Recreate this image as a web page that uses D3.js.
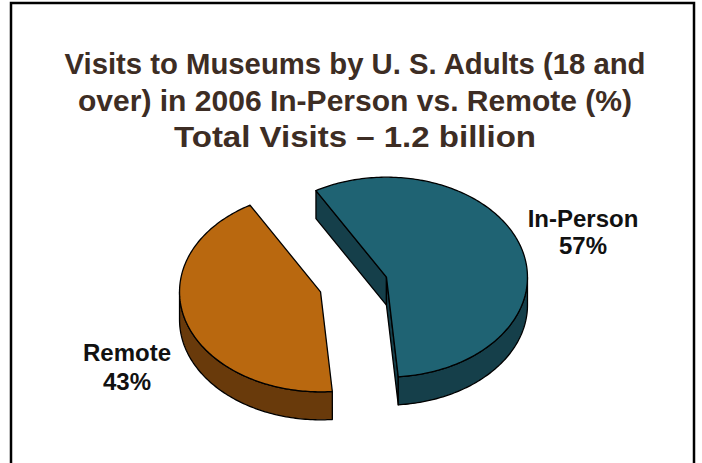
<!DOCTYPE html>
<html>
<head>
<meta charset="utf-8">
<script src="https://cdn.jsdelivr.net/npm/d3@7"></script>
<style>
  html, body { margin: 0; padding: 0; background: #fff; }
  svg { display: block; }
</style>
</head>
<body>
<svg id="chart" width="702" height="463"></svg>
<script>
// Data
const categories = ["In-Person", "Remote"];
const shares = [57, 43];
const valueLabels = ["57%", "43%"];
const titleLines = [
  "Visits to Museums by U. S. Adults (18 and",
  "over) in 2006 In-Person vs. Remote (%)",
  "Total Visits \u2013 1.2 billion"
];

// Styling / layout
const topColors = ["#1F6373", "#B9680F"];
const sideColors = ["#153F4A", "#693A0B"];
const W = 702, H = 463;
const cx = 353.5, cy = 284.5;   // pie centre (before slices are pulled apart)
const rx = 141, ry = 100;       // ellipse radii of the tilted pie
const depth = 28;               // thickness of the pie
const explode = 0.245;          // how far each slice is pulled out
const startDeg = -30;

const svg = d3.select("#chart");

// Frame
svg.append("rect")
  .attr("x", 11).attr("y", 3)
  .attr("width", 683).attr("height", 520)
  .attr("fill", "none").attr("stroke", "#000").attr("stroke-width", 2.5);

// Title (condensed bold lines)
const title = svg.append("g");
const titleBase = [74, 111, 147];
const titleWidths = [581, 554, 362];
titleLines.forEach((t, i) => {
  title.append("text")
    .attr("x", W / 2 + 4).attr("y", titleBase[i])
    .attr("text-anchor", "middle")
    .attr("font-family", "'Liberation Sans', Arial, sans-serif")
    .attr("font-weight", "bold")
    .attr("font-size", 30)
    .attr("fill", "#3D2D24")
    .attr("textLength", titleWidths[i])
    .attr("lengthAdjust", "spacingAndGlyphs")
    .text(t);
});

// Pie layout (angles clockwise from 12 o'clock)
const pie = d3.pie().sort(null).value(d => d)
  .startAngle(startDeg * Math.PI / 180)
  .endAngle((startDeg + 360) * Math.PI / 180);
const arcs = pie(shares);

const pt = (ox, oy, a, dy = 0) => [ox + rx * Math.sin(a), oy - ry * Math.cos(a) + dy];
function arcPoints(ox, oy, a0, a1, dy = 0) {
  const n = Math.max(2, Math.ceil(Math.abs(a1 - a0) / (Math.PI / 180)));
  return d3.range(n + 1).map(i => pt(ox, oy, a0 + (a1 - a0) * i / n, dy));
}
const line = d3.line();

const g = svg.append("g");
arcs.forEach((d, i) => {
  const mid = (d.startAngle + d.endAngle) / 2;
  const ox = cx + explode * rx * Math.sin(mid);
  const oy = cy - explode * ry * Math.cos(mid);
  const sg = g.append("g");
  const applyStroke = sel => sel
    .attr("stroke", "#000").attr("stroke-width", 1.3).attr("stroke-linejoin", "round");

  // Cut faces (radial walls) that face the viewer
  const walls = [
    { a: d.startAngle, dir: d.startAngle - Math.PI / 2 },
    { a: d.endAngle, dir: d.endAngle + Math.PI / 2 }
  ];
  walls.forEach(w => {
    if (Math.cos(w.dir) < 0) {
      const p = pt(ox, oy, w.a);
      const poly = [[ox, oy], p, [p[0], p[1] + depth], [ox, oy + depth]];
      applyStroke(sg.append("path").attr("d", line(poly) + "Z").attr("fill", sideColors[i]));
    }
  });

  // Outer rim: the part of the arc on the near (lower) half of the ellipse
  for (let k = -1; k <= 1; k++) {
    const lo = Math.max(d.startAngle, Math.PI / 2 + 2 * Math.PI * k);
    const hi = Math.min(d.endAngle, 3 * Math.PI / 2 + 2 * Math.PI * k);
    if (hi > lo) {
      const topEdge = arcPoints(ox, oy, lo, hi);
      const botEdge = arcPoints(ox, oy, hi, lo, depth);
      applyStroke(sg.append("path").attr("d", line(topEdge.concat(botEdge)) + "Z").attr("fill", sideColors[i]));
    }
  }

  // Top face
  const face = [[ox, oy]].concat(arcPoints(ox, oy, d.startAngle, d.endAngle));
  applyStroke(sg.append("path").attr("d", line(face) + "Z").attr("fill", topColors[i]));
});

// Slice labels
const labelPos = [[583, 227, 254], [127, 361, 390]];
categories.forEach((c, i) => {
  const [lx, y1, y2] = labelPos[i];
  const t = svg.append("text")
    .attr("text-anchor", "middle")
    .attr("font-family", "'Liberation Sans', Arial, sans-serif")
    .attr("font-weight", "bold")
    .attr("font-size", 24)
    .attr("fill", "#111");
  t.append("tspan").attr("x", lx).attr("y", y1).text(c);
  t.append("tspan").attr("x", lx).attr("y", y2).text(valueLabels[i]);
});
</script>
</body>
</html>
